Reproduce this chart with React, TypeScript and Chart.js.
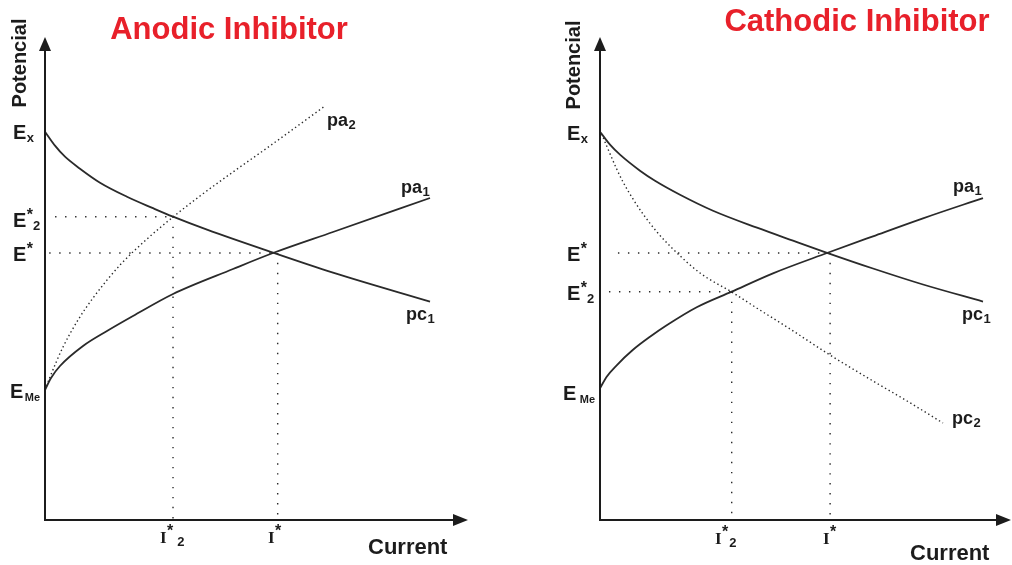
import React, { useEffect, useRef } from "react";
import { Chart, registerables } from "chart.js";

Chart.register(...registerables);

// ---------- Anodic inhibitor panel (current on x, potential on y, arbitrary units 0..10)
const anodicPc1Current = [0, 0.238, 0.476, 0.833, 1.31, 1.952, 2.571, 3.048, 3.857, 5.429, 6.857, 9.167];
const anodicPc1Potential = [8.056, 7.766, 7.537, 7.289, 6.998, 6.707, 6.469, 6.293, 6.023, 5.546, 5.131, 4.529];
const anodicPa1Current = [0, 0.143, 0.357, 0.905, 1.476, 2.095, 3.048, 4.476, 5.429, 6.857, 9.167];
const anodicPa1Potential = [2.697, 2.946, 3.195, 3.61, 3.921, 4.232, 4.689, 5.207, 5.539, 5.975, 6.68];
const anodicPa2Current = [0, 0.119, 0.429, 0.786, 1.143, 1.786, 2.429, 3.048, 3.69, 4.476, 5.286, 6.667];
const anodicPa2Potential = [2.697, 2.967, 3.589, 4.149, 4.606, 5.29, 5.83, 6.286, 6.722, 7.22, 7.718, 8.589];
const anodicEstar2Current = [0.24, 3.048];
const anodicEstar2Potential = [6.29, 6.29];
const anodicEstarCurrent = [0.1, 5.43];
const anodicEstarPotential = [5.54, 5.54];
const anodicIstar2Current = [3.048, 3.048];
const anodicIstar2Potential = [6.29, 0];
const anodicIstarCurrent = [5.54, 5.54];
const anodicIstarPotential = [5.54, 0];

// ---------- Cathodic inhibitor panel
const cathodicPc1Current = [0, 0.245, 0.49, 0.98, 1.348, 1.961, 2.77, 3.848, 4.73, 5.564, 6.691, 7.917, 9.387];
const cathodicPc1Potential = [8.056, 7.786, 7.579, 7.247, 7.039, 6.749, 6.417, 6.064, 5.795, 5.544, 5.218, 4.886, 4.533];
const cathodicPa1Current = [0, 0.164, 0.409, 0.809, 1.225, 1.635, 2.37, 3.228, 4.24, 5.564, 6.691, 7.917, 9.387];
const cathodicPa1Potential = [2.732, 2.973, 3.21, 3.531, 3.801, 4.039, 4.413, 4.737, 5.118, 5.539, 5.886, 6.259, 6.68];
const cathodicPc2Current = [0, 0.164, 0.409, 0.564, 0.809, 1.054, 1.397, 1.789, 2.451, 3.228, 3.841, 4.657, 5.637, 6.691, 7.525, 8.407];
const cathodicPc2Potential = [8.091, 7.759, 7.282, 7.012, 6.66, 6.349, 5.975, 5.622, 5.124, 4.73, 4.398, 3.963, 3.423, 2.884, 2.469, 2.012];
const cathodicEstarCurrent = [0.44, 5.564];
const cathodicEstarPotential = [5.54, 5.54];
const cathodicEstar2Current = [0.22, 3.228];
const cathodicEstar2Potential = [4.737, 4.737];
const cathodicIstar2Current = [3.228, 3.228];
const cathodicIstar2Potential = [4.737, 0];
const cathodicIstarCurrent = [5.64, 5.64];
const cathodicIstarPotential = [5.54, 0];

const panelTitles = ["Anodic Inhibitor", "Cathodic Inhibitor"];
const yAxisTitle = "Potencial";
const xAxisTitle = "Current";

type Txt = {
  x: number;
  y: number;
  main: string;
  sup?: string;
  sub?: string;
  font?: string;
  subFont?: string;
  subGap?: number;
};

const SANS = "'Liberation Sans', Arial, sans-serif";
const SERIF = "'Liberation Serif', 'Times New Roman', serif";
const LABEL_FONT = `bold 20px ${SANS}`;
const CURVE_FONT = `bold 18px ${SANS}`;
const SMALL_FONT = `bold 13px ${SANS}`;
const STAR_FONT = `bold 16px ${SANS}`;
const I_FONT = `bold 17px ${SERIF}`;

const INK = "#1c1c1c";
const CURVE = "#2a2a2a";

function series(xs: number[], ys: number[], kind: "solid" | "dotted" | "guide") {
  const base: any = {
    data: xs.map((x, i) => ({ x, y: ys[i] })),
    borderColor: CURVE,
    pointRadius: 0,
    fill: false,
    cubicInterpolationMode: "monotone",
  };
  if (kind === "solid") {
    base.borderWidth = 1.8;
  } else if (kind === "dotted") {
    base.borderWidth = 1.4;
    base.borderDash = [1.4, 2.8];
  } else {
    base.borderWidth = 1.4;
    base.borderDash = [1.4, 8.6];
  }
  return base;
}

function drawRich(ctx: CanvasRenderingContext2D, t: Txt) {
  ctx.font = t.font || LABEL_FONT;
  ctx.textAlign = "left";
  ctx.textBaseline = "alphabetic";
  ctx.fillStyle = INK;
  ctx.fillText(t.main, t.x, t.y);
  let cx = t.x + ctx.measureText(t.main).width + 0.5;
  if (t.sup) {
    ctx.font = STAR_FONT;
    ctx.fillText(t.sup, cx, t.y - 7);
    cx += ctx.measureText(t.sup).width;
  }
  if (t.sub) {
    ctx.font = t.subFont || SMALL_FONT;
    ctx.fillText(t.sub, cx + (t.subGap || 0), t.y + 3);
  }
}

function decorPlugin(title: string, titleX: number, titleY: number, axisTitleX: number, axisTitleY: number, currentX: number, currentY: number, labels: Txt[]) {
  return {
    id: "decor",
    afterDatasetsDraw(chart: any) {
      const ctx: CanvasRenderingContext2D = chart.ctx;
      const a = chart.chartArea;
      ctx.save();
      // axes
      ctx.strokeStyle = INK;
      ctx.fillStyle = INK;
      ctx.lineWidth = 2;
      ctx.beginPath();
      ctx.moveTo(a.left, a.top + 10);
      ctx.lineTo(a.left, a.bottom);
      ctx.lineTo(a.right - 8, a.bottom);
      ctx.stroke();
      // y arrow
      ctx.beginPath();
      ctx.moveTo(a.left, a.top - 1);
      ctx.lineTo(a.left - 6, a.top + 13);
      ctx.lineTo(a.left + 6, a.top + 13);
      ctx.closePath();
      ctx.fill();
      // x arrow
      ctx.beginPath();
      ctx.moveTo(a.right + 3, a.bottom);
      ctx.lineTo(a.right - 12, a.bottom - 6);
      ctx.lineTo(a.right - 12, a.bottom + 6);
      ctx.closePath();
      ctx.fill();

      // title
      ctx.font = `bold 31px ${SANS}`;
      ctx.fillStyle = "#e8202a";
      ctx.textAlign = "center";
      ctx.textBaseline = "alphabetic";
      ctx.fillText(title, titleX, titleY);

      // y axis title
      ctx.save();
      ctx.translate(axisTitleX, axisTitleY);
      ctx.rotate(-Math.PI / 2);
      ctx.font = `bold 20px ${SANS}`;
      ctx.fillStyle = INK;
      ctx.textAlign = "center";
      ctx.textBaseline = "middle";
      ctx.fillText(yAxisTitle, 0, 0);
      ctx.restore();

      // x axis title
      ctx.font = `bold 22px ${SANS}`;
      ctx.fillStyle = INK;
      ctx.textAlign = "left";
      ctx.fillText(xAxisTitle, currentX, currentY);

      labels.forEach((t) => drawRich(ctx, t));
      ctx.restore();
    },
  };
}

function makeConfig(datasets: any[], padding: any, plugin: any) {
  return {
    type: "line" as const,
    data: { datasets },
    options: {
      responsive: false,
      animation: false,
      events: [],
      layout: { padding },
      plugins: {
        legend: { display: false },
        tooltip: { enabled: false },
        title: { display: false },
      },
      scales: {
        x: { type: "linear", min: 0, max: 10, display: false },
        y: { type: "linear", min: 0, max: 10, display: false },
      },
    },
    plugins: [plugin],
  };
}

export default function App() {
  const leftRef = useRef<HTMLCanvasElement | null>(null);
  const rightRef = useRef<HTMLCanvasElement | null>(null);

  useEffect(() => {
    const leftLabels: Txt[] = [
      { x: 13, y: 139, main: "E", sub: "x" },
      { x: 13, y: 227, main: "E", sup: "*", sub: "2" },
      { x: 13, y: 261, main: "E", sup: "*" },
      { x: 10, y: 398, main: "E", sub: "Me", subFont: `bold 11px ${SANS}`, subGap: 1 },
      { x: 160, y: 543, main: "I", sup: "*", sub: "2", font: I_FONT, subGap: 4 },
      { x: 268, y: 543, main: "I", sup: "*", font: I_FONT },
      { x: 327, y: 126, main: "pa", sub: "2", font: CURVE_FONT },
      { x: 401, y: 193, main: "pa", sub: "1", font: CURVE_FONT },
      { x: 406, y: 320, main: "pc", sub: "1", font: CURVE_FONT },
    ];
    const rightOff = 506;
    const rightLabels: Txt[] = [
      { x: 567 - rightOff, y: 140, main: "E", sub: "x" },
      { x: 567 - rightOff, y: 261, main: "E", sup: "*" },
      { x: 567 - rightOff, y: 300, main: "E", sup: "*", sub: "2" },
      { x: 563 - rightOff, y: 400, main: "E", sub: "Me", subFont: `bold 11px ${SANS}`, subGap: 3 },
      { x: 715 - rightOff, y: 544, main: "I", sup: "*", sub: "2", font: I_FONT, subGap: 1 },
      { x: 823 - rightOff, y: 544, main: "I", sup: "*", font: I_FONT },
      { x: 953 - rightOff, y: 192, main: "pa", sub: "1", font: CURVE_FONT },
      { x: 962 - rightOff, y: 320, main: "pc", sub: "1", font: CURVE_FONT },
      { x: 952 - rightOff, y: 424, main: "pc", sub: "2", font: CURVE_FONT },
    ];

    const leftChart = new Chart(
      leftRef.current as HTMLCanvasElement,
      makeConfig(
        [
          series(anodicPc1Current, anodicPc1Potential, "solid"),
          series(anodicPa1Current, anodicPa1Potential, "solid"),
          series(anodicPa2Current, anodicPa2Potential, "dotted"),
          series(anodicEstar2Current, anodicEstar2Potential, "guide"),
          series(anodicEstarCurrent, anodicEstarPotential, "guide"),
          series(anodicIstar2Current, anodicIstar2Potential, "guide"),
          series(anodicIstarCurrent, anodicIstarPotential, "guide"),
        ],
        { left: 45, top: 38, right: 41, bottom: 45 },
        decorPlugin(panelTitles[0], 229, 39, 20, 63, 368, 554, leftLabels)
      ) as any
    );

    const rightChart = new Chart(
      rightRef.current as HTMLCanvasElement,
      makeConfig(
        [
          series(cathodicPc1Current, cathodicPc1Potential, "solid"),
          series(cathodicPa1Current, cathodicPa1Potential, "solid"),
          series(cathodicPc2Current, cathodicPc2Potential, "dotted"),
          series(cathodicEstarCurrent, cathodicEstarPotential, "guide"),
          series(cathodicEstar2Current, cathodicEstar2Potential, "guide"),
          series(cathodicIstar2Current, cathodicIstar2Potential, "guide"),
          series(cathodicIstarCurrent, cathodicIstarPotential, "guide"),
        ],
        { left: 94, top: 38, right: 4, bottom: 45 },
        decorPlugin(panelTitles[1], 857 - rightOff, 31, 574 - rightOff, 65, 910 - rightOff, 560, rightLabels)
      ) as any
    );

    return () => {
      leftChart.destroy();
      rightChart.destroy();
    };
  }, []);

  return (
    <div style={{ position: "fixed", left: 0, top: 0, width: 1012, height: 565, background: "#fff" }}>
      <canvas ref={leftRef} width={506} height={565} style={{ position: "absolute", left: 0, top: 0, width: 506, height: 565 }} />
      <canvas ref={rightRef} width={506} height={565} style={{ position: "absolute", left: 506, top: 0, width: 506, height: 565 }} />
    </div>
  );
}
